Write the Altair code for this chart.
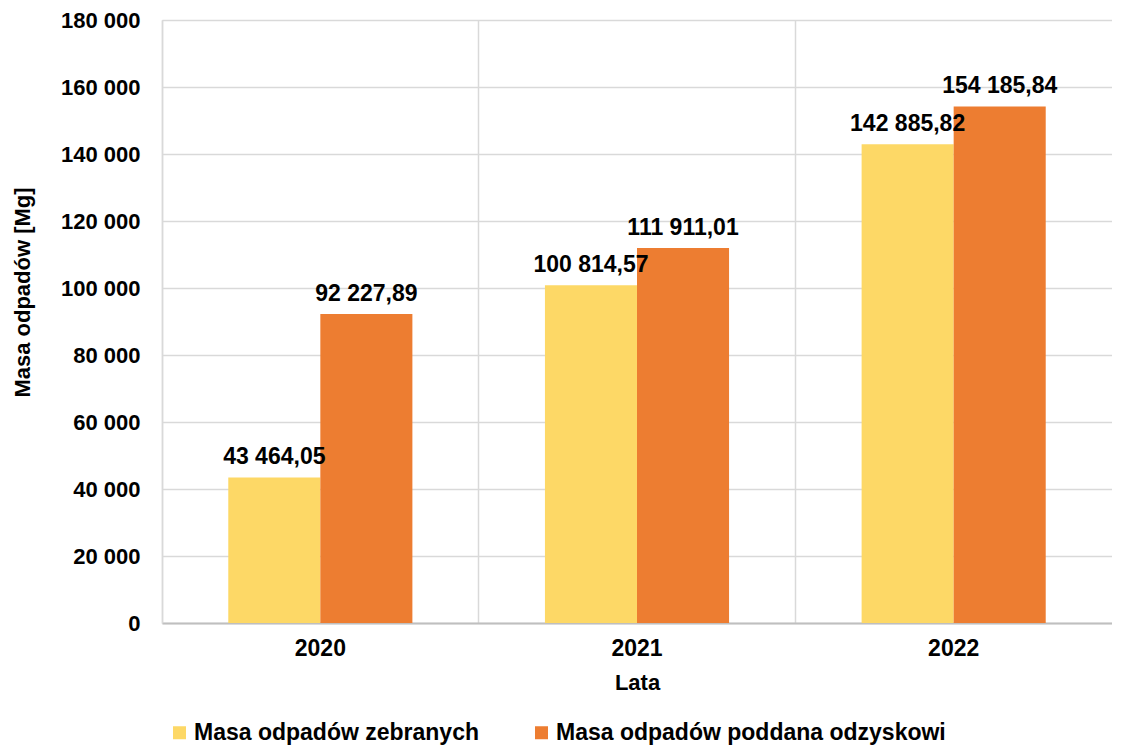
import altair as alt
import pandas as pd

years = ["2020", "2021", "2022"]
series = ["Masa odpadów zebranych", "Masa odpadów poddana odzyskowi"]
collected = [43464.05, 100814.57, 142885.82]
recovered = [92227.89, 111911.01, 154185.84]
y_ticks = [0, 20000, 40000, 60000, 80000, 100000, 120000, 140000, 160000, 180000]
colors = ["#FDD866", "#ED7D31"]

def pl(v):
    return "{:,.2f}".format(v).replace(",", " ").replace(".", ",")

rows = []
for i, y in enumerate(years):
    rows.append({"Rok": y, "Seria": series[0], "Wartosc": collected[i], "Etykieta": pl(collected[i])})
    rows.append({"Rok": y, "Seria": series[1], "Wartosc": recovered[i], "Etykieta": pl(recovered[i])})
df = pd.DataFrame(rows)

FONT = "Liberation Sans"

x_enc = alt.X("Rok:N", sort=years,
              scale=alt.Scale(paddingInner=0, paddingOuter=0),
              axis=alt.Axis(title="Lata", bandPosition=0, grid=True, ticks=False,
                            labelAngle=0, labelPadding=14, titlePadding=12,
                            labelFontSize=23, titleFontSize=22,
                            labelFont=FONT, titleFont=FONT,
                            labelFontWeight="bold", titleFontWeight="bold",
                            labelColor="#000000", titleColor="#000000",
                            domainColor="#BFBFBF", domainWidth=2,
                            gridColor="#D9D9D9", gridWidth=1.5))
xoff = alt.XOffset("Seria:N", sort=series,
                   scale=alt.Scale(paddingOuter=0.72, paddingInner=0))
y_enc = alt.Y("Wartosc:Q",
              scale=alt.Scale(domain=[0, 180000], nice=False),
              axis=alt.Axis(title="Masa odpadów [Mg]", values=y_ticks, ticks=False,
                            labelExpr="replace(format(datum.value, ','), ',', ' ')",
                            labelPadding=22, labelFontSize=22, titleFontSize=22,
                            labelFont=FONT, titleFont=FONT,
                            labelFontWeight="bold", titleFontWeight="bold",
                            labelColor="#000000", titleColor="#000000",
                            titleAngle=-90, titleX=-140, titleY=272,
                            titleAlign="center", titleBaseline="middle",
                            domainColor="#D9D9D9", domainWidth=1.5,
                            gridColor="#D9D9D9", gridWidth=1.5))

bars = alt.Chart(df).mark_bar().encode(
    x=x_enc,
    xOffset=xoff,
    y=y_enc,
    color=alt.Color("Seria:N", sort=series,
                    scale=alt.Scale(domain=series, range=colors),
                    legend=alt.Legend(title=None, orient="none", legendX=6, legendY=701,
                                      direction="horizontal", symbolType="square",
                                      symbolSize=169, symbolStrokeWidth=0,
                                      labelFontSize=23, labelFont=FONT,
                                      labelFontWeight="bold", labelColor="#000000",
                                      labelOffset=3, labelLimit=0, columnPadding=50)),
)

labels = alt.Chart(df).mark_text(
    font=FONT, fontSize=23, fontWeight="bold", color="#000000",
    baseline="alphabetic", dy=-13, align="center"
).encode(
    x=alt.X("Rok:N", sort=years),
    xOffset=alt.XOffset("Seria:N", sort=series),
    y=alt.Y("Wartosc:Q"),
    text="Etykieta:N",
)

chart = (bars + labels).properties(
    width=950, height=603,
    autosize=alt.AutoSizeParams(type="none"),
    padding={"left": 154, "top": 12, "right": 0, "bottom": 122},
).configure_view(stroke=None).configure(background="#FFFFFF")

chart.save("out.html", embed_options={"renderer": "svg", "actions": False})
